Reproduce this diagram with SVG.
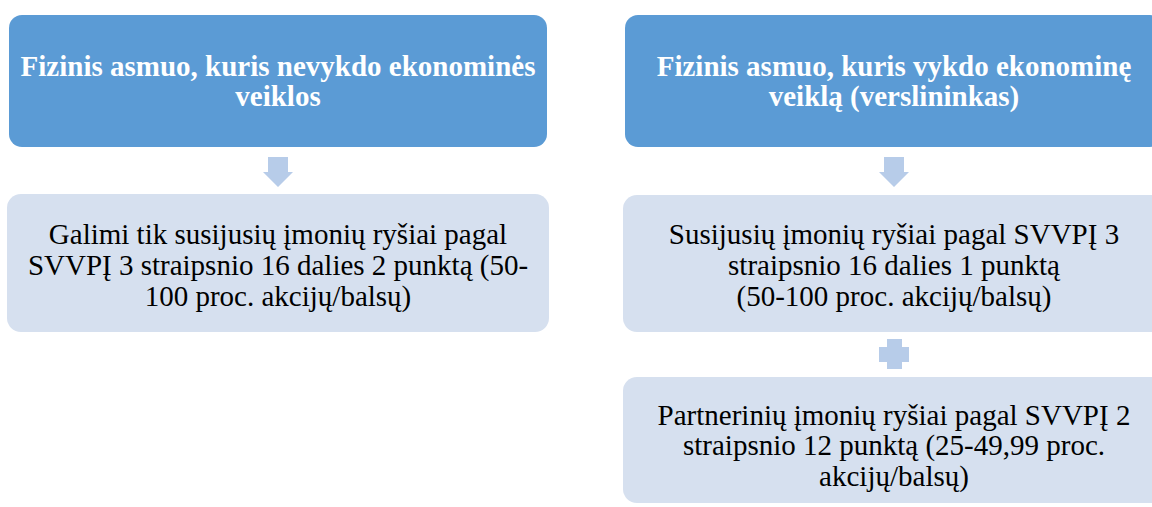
<svg xmlns="http://www.w3.org/2000/svg" width="1152" height="507" viewBox="0 0 1152 507">
<style>
.top{fill:#5B9BD5}
.low{fill:#D6E0EF}
.conn{fill:#B7CCE9}
.tt{font-size:29px;font-weight:bold;fill:#FFFFFF;text-anchor:middle}
.lt{font-size:29px;fill:#000000;text-anchor:middle}
</style>
<rect width="1152" height="507" fill="#FFFFFF"/>
<g id="connectors">
<polygon class="conn" points="268,157 288,157 288,172 293,172 278,187 263,172 268,172"/>
<polygon class="conn" points="884,157 904,157 904,172 909,172 894,187 879,172 884,172"/>
<polygon class="conn" points="887,339 902,339 902,347 909,347 909,362 902,362 902,369 887,369 887,362 879,362 879,347 887,347"/>
</g>
<g font-family="Liberation Serif, Tinos, DejaVu Serif, serif">
<g id="node-left-top">
<rect class="top" x="9" y="15" width="538" height="132" rx="13"/>
<text class="tt" x="278" y="76">Fizinis asmuo, kuris nevykdo ekonominės</text>
<text class="tt" x="278" y="106">veiklos</text>
</g>
<g id="node-left-bottom">
<rect class="low" x="7" y="194" width="542" height="138" rx="14"/>
<text class="lt" x="278" y="244">Galimi tik susijusių įmonių ryšiai pagal</text>
<text class="lt" x="278" y="275">SVVPĮ 3 straipsnio 16 dalies 2 punktą (50-</text>
<text class="lt" x="278" y="306">100 proc. akcijų/balsų)</text>
</g>
<g id="node-right-top">
<rect class="top" x="625" y="15" width="538" height="132" rx="13"/>
<text class="tt" x="894" y="76">Fizinis asmuo, kuris vykdo ekonominę</text>
<text class="tt" x="894" y="106">veiklą (verslininkas)</text>
</g>
<g id="node-right-middle">
<rect class="low" x="623" y="195" width="542" height="137" rx="14"/>
<text class="lt" x="894" y="244">Susijusių įmonių ryšiai pagal SVVPĮ 3</text>
<text class="lt" x="894" y="275">straipsnio 16 dalies 1 punktą</text>
<text class="lt" x="894" y="306">(50-100 proc. akcijų/balsų)</text>
</g>
<g id="node-right-bottom">
<rect class="low" x="623" y="377" width="542" height="126" rx="14"/>
<text class="lt" x="894" y="425">Partnerinių įmonių ryšiai pagal SVVPĮ 2</text>
<text class="lt" x="894" y="455">straipsnio 12 punktą (25-49,99 proc.</text>
<text class="lt" x="894" y="486">akcijų/balsų)</text>
</g>
</g>
</svg>
